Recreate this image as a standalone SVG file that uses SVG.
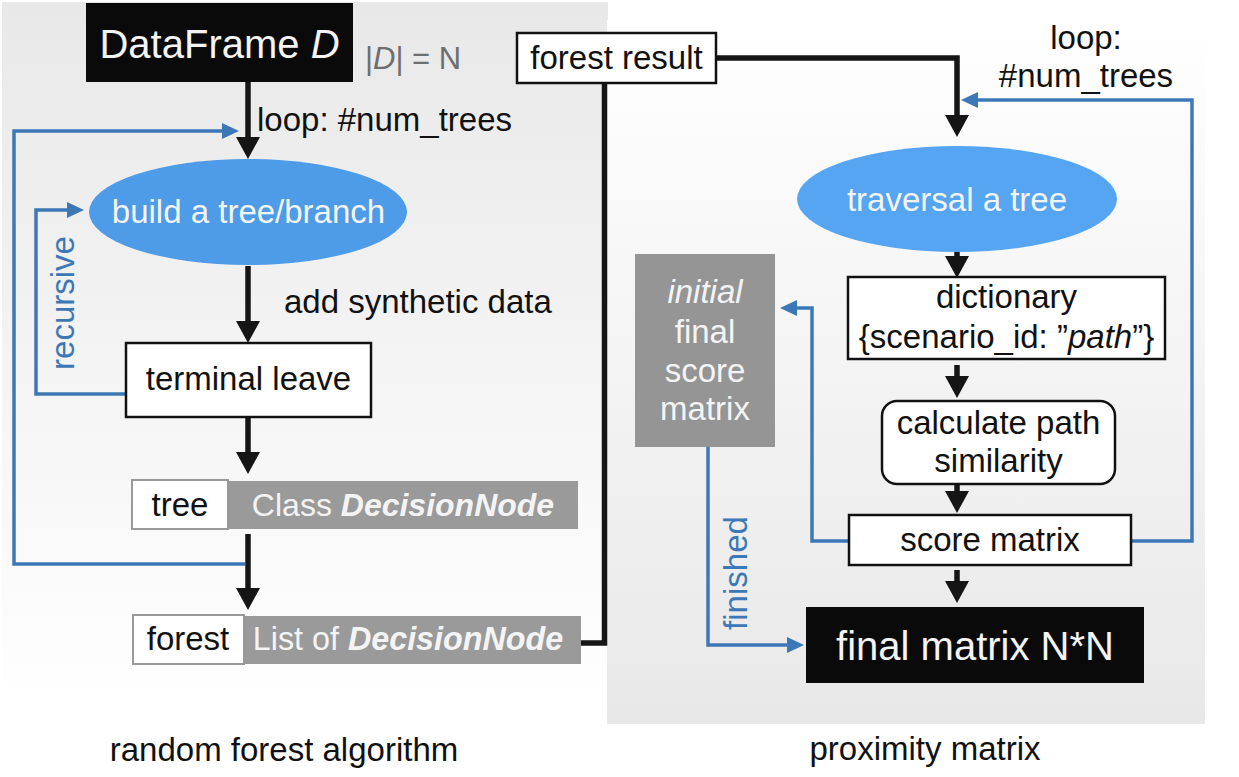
<svg xmlns="http://www.w3.org/2000/svg" width="1239" height="777" viewBox="0 0 1239 777">
<defs>
<linearGradient id="gLeft" x1="0" y1="0" x2="0" y2="1">
<stop offset="0" stop-color="#e8e8e8"/>
<stop offset="1" stop-color="#ffffff"/>
</linearGradient>
<linearGradient id="gRight" x1="0" y1="0" x2="0" y2="1">
<stop offset="0" stop-color="#ffffff"/>
<stop offset="1" stop-color="#e8e8e8"/>
</linearGradient>
<marker id="ahBlack" markerUnits="userSpaceOnUse" markerWidth="22" markerHeight="24" refX="1" refY="12" orient="auto">
<path d="M0,0 L22,12 L0,24 z" fill="#151515"/>
</marker>
<marker id="ahBlue" markerUnits="userSpaceOnUse" markerWidth="17" markerHeight="16" refX="1" refY="8" orient="auto">
<path d="M0,0 L17,8 L0,16 z" fill="#3c78b6"/>
</marker>
<style>
text{font-family:"Liberation Sans",Arial,Helvetica,sans-serif;font-size:33px;fill:#111}
.c{text-anchor:middle}
.w{fill:#f4f4f4}
.bl{fill:#3c78b6}
.it{font-style:italic}
.bi{font-style:italic;font-weight:bold}
.box{fill:#ffffff;stroke:#111;stroke-width:2.5}
.gbox{fill:#9a9a9a}
.blk{fill:#0a0a0a}
.conn{fill:none;stroke:#151515;stroke-width:5.5;stroke-linejoin:miter}
.bconn{fill:none;stroke:#3c78b6;stroke-width:3.5;stroke-linejoin:miter}
</style>
</defs>

<g id="panels">
<rect x="2" y="2" width="606" height="703" fill="url(#gLeft)"/>
<rect x="607" y="20" width="598" height="704" fill="url(#gRight)"/>
</g>

<g id="connectors">
<path class="conn" d="M248,82 V138" marker-end="url(#ahBlack)"/>
<path class="conn" d="M248,266 V322" marker-end="url(#ahBlack)"/>
<path class="conn" d="M248,417 V453" marker-end="url(#ahBlack)"/>
<path class="conn" d="M248,534 V589" marker-end="url(#ahBlack)"/>
<path class="conn" d="M581,643 H604.5 V83"/>
<path class="conn" d="M717,58 H957 V116" marker-end="url(#ahBlack)"/>
<path class="conn" d="M957,252 V257" marker-end="url(#ahBlack)"/>
<path class="conn" d="M957,365 V377" marker-end="url(#ahBlack)"/>
<path class="conn" d="M957,485 V492" marker-end="url(#ahBlack)"/>
<path class="conn" d="M957,570 V582" marker-end="url(#ahBlack)"/>
<path class="bconn" d="M245,564 H14 V131 H223" marker-end="url(#ahBlue)"/>
<path class="bconn" d="M126,394 H36 V210 H68" marker-end="url(#ahBlue)"/>
<path class="bconn" d="M849,541 H812 V308 H796" marker-end="url(#ahBlue)"/>
<path class="bconn" d="M708,447 V645 H788" marker-end="url(#ahBlue)"/>
<path class="bconn" d="M1131,541 H1192 V100 H977" marker-end="url(#ahBlue)"/>
<text x="257" y="131">loop: #num_trees</text>
<text x="284" y="313">add synthetic data</text>
<text class="c bl" transform="translate(74,303) rotate(-90)">recursive</text>
<text class="c" x="1086" y="49">loop:</text>
<text class="c" x="1086" y="87">#num_trees</text>
<text class="c bl" transform="translate(747,573) rotate(-90)">finished</text>
</g>

<g id="dataframe">
<rect class="blk" x="86" y="3" width="267" height="79"/>
<text class="c w" x="219.5" y="58" style="font-size:40px">DataFrame <tspan class="it">D</tspan></text>
<text x="365" y="69" style="font-size:31px;fill:#6e6e6e">|<tspan class="it">D</tspan>| = N</text>
</g>

<g id="build">
<ellipse cx="248" cy="212" rx="159" ry="53" fill="#4e9be7"/>
<text class="c w" x="248.5" y="223">build a tree/branch</text>
</g>

<g id="terminal">
<rect class="box" x="126" y="343" width="245" height="74"/>
<text class="c" x="248.5" y="390">terminal leave</text>
</g>

<g id="tree">
<rect class="gbox" x="228" y="481" width="350" height="48"/>
<rect x="132" y="480" width="96" height="49" fill="#fff" stroke="#999" stroke-width="2"/>
<text class="c" x="180" y="516">tree</text>
<text class="c w" x="403" y="516" style="font-size:32px">Class <tspan class="bi">DecisionNode</tspan></text>
</g>

<g id="forest">
<rect class="gbox" x="244" y="616" width="337" height="48"/>
<rect x="133" y="615" width="111" height="49" fill="#fff" stroke="#999" stroke-width="2"/>
<text class="c" x="188" y="650">forest</text>
<text class="c w" x="408" y="650" style="font-size:32.3px">List of <tspan class="bi">DecisionNode</tspan></text>
</g>

<g id="forest-result">
<rect class="box" x="517" y="33" width="199" height="50"/>
<text class="c" x="616.5" y="69">forest result</text>
</g>

<g id="traversal">
<ellipse cx="957" cy="199" rx="160" ry="53" fill="#55a5f2"/>
<text class="c w" x="957" y="211">traversal a tree</text>
</g>

<g id="initial-matrix">
<rect x="635" y="254" width="140" height="193" fill="#959595"/>
<text class="c w it" x="705" y="303">initial</text>
<text class="c w" x="705" y="343">final</text>
<text class="c w" x="705" y="382">score</text>
<text class="c w" x="705" y="420">matrix</text>
</g>

<g id="dictionary">
<rect class="box" x="848" y="277" width="317" height="82"/>
<text class="c" x="1006.5" y="308">dictionary</text>
<text class="c" x="1006.5" y="348">{scenario_id: ”<tspan class="it">path</tspan>”}</text>
</g>

<g id="calculate">
<rect class="box" x="882" y="401" width="233" height="83" rx="15" ry="15"/>
<text class="c" x="998.5" y="434">calculate path</text>
<text class="c" x="998.5" y="472">similarity</text>
</g>

<g id="score">
<rect class="box" x="849" y="515" width="282" height="50"/>
<text class="c" x="990" y="551">score matrix</text>
</g>

<g id="final">
<rect class="blk" x="806" y="607" width="338" height="76"/>
<text class="c w" x="975" y="660" style="font-size:40px">final matrix N*N</text>
</g>

<g id="captions">
<text class="c" x="284" y="761">random forest algorithm</text>
<text class="c" x="925" y="760">proximity matrix</text>
</g>
</svg>
